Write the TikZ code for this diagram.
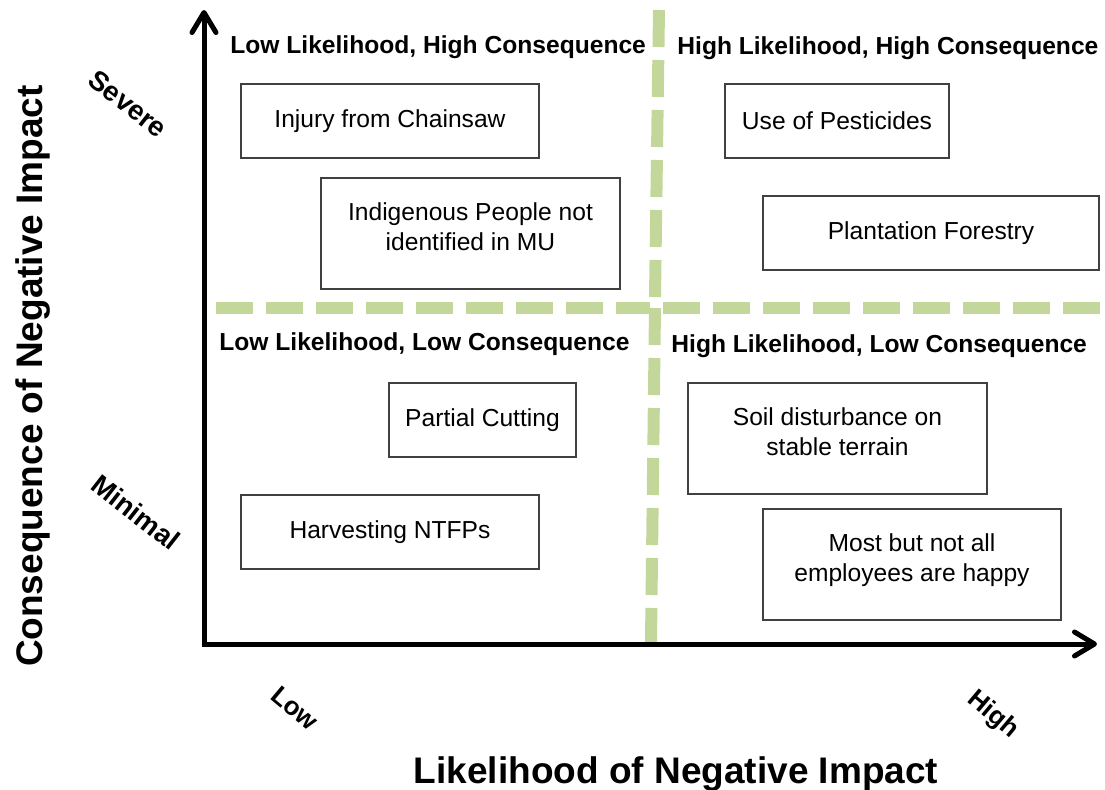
\documentclass[tikz,border=0pt]{standalone}
\usepackage{fontspec}
\setmainfont{Liberation Sans}
\usetikzlibrary{arrows.meta}
\definecolor{dashgreen}{RGB}{196,215,155}

\begin{document}
\begin{tikzpicture}[x=0.5pt, y=-0.5pt,
	box/.style={draw=black!75, line width=0.6pt, align=center, font=\fontsize{12.3}{14.8}\selectfont},
	tallbox/.style={box, minimum height=55.5pt, text depth=7pt},
	quad/.style={anchor=base west, inner sep=0pt, font=\fontsize{12.3}{14.8}\selectfont\bfseries},
	ends/.style={inner sep=0pt, font=\fontsize{13.8}{16}\selectfont\bfseries},
	axistitle/.style={anchor=base, inner sep=0pt, font=\fontsize{18.5}{22}\selectfont\bfseries},
	divider/.style={dashgreen, line width=6pt, dash pattern=on 18.5pt off 6.5pt},
	barb/.tip={Straight Barb[length=10pt, width=12pt, round]}]
	\useasboundingbox (0,0) rectangle (1105,789);
	\draw[divider] (659,10) -- (655,297);
	\draw[divider] (655,308) -- (651,642);
	\draw[divider] (216,308) -- (650,308);
	\draw[divider] (663,308) -- (1100,308);
	\coordinate (origin) at (204,644);
	\coordinate (ytop) at (204,10);
	\coordinate (xend) at (1097,644);
	\draw[barb-barb, line width=2.5pt] (ytop) -- (origin) -- (xend);
	\node[box, minimum width=149pt, minimum height=37pt] (chainsaw) at (390,121) {Injury from Chainsaw};
	\node[tallbox, minimum width=149.5pt] (indigenous) at (470.5,233.5) {Indigenous People not\\identified in MU};
	\node[box, minimum width=112pt, minimum height=37pt] (pesticides) at (837,121) {Use of Pesticides};
	\node[box, minimum width=168pt, minimum height=37pt] (plantation) at (931,233) {Plantation Forestry};
	\node[box, minimum width=93.5pt, minimum height=37pt] (partial) at (482.5,420) {Partial Cutting};
	\node[box, minimum width=149pt, minimum height=37pt] (ntfp) at (390,532) {Harvesting NTFPs};
	\node[tallbox, minimum width=149.5pt] (soil) at (837.5,438.5) {Soil disturbance on\\stable terrain};
	\node[tallbox, minimum width=149pt] (employees) at (912,564.5) {Most but not all\\employees are happy};
	\node[quad] (lowhigh) at (230,53) {Low Likelihood, High Consequence};
	\node[quad] (highhigh) at (677,54) {High Likelihood, High Consequence};
	\node[quad] (lowlow) at (219,350) {Low Likelihood, Low Consequence};
	\node[quad] (highlow) at (671,352) {High Likelihood, Low Consequence};
	\node[ends, rotate=-38] (severe) at (128,104) {Severe};
	\node[ends, rotate=-38] (minimal) at (136,512) {Minimal};
	\node[ends, rotate=-40, font=\fontsize{13}{15}\selectfont\bfseries] (low) at (295,708) {Low};
	\node[ends, rotate=-40, font=\fontsize{13}{15}\selectfont\bfseries] (high) at (993,715) {High};
	\node[axistitle] (xtitle) at (676,783) {Likelihood of Negative Impact};
	\node[axistitle, rotate=90] (ytitle) at (42,376) {Consequence of Negative Impact};
\end{tikzpicture}
\end{document}
